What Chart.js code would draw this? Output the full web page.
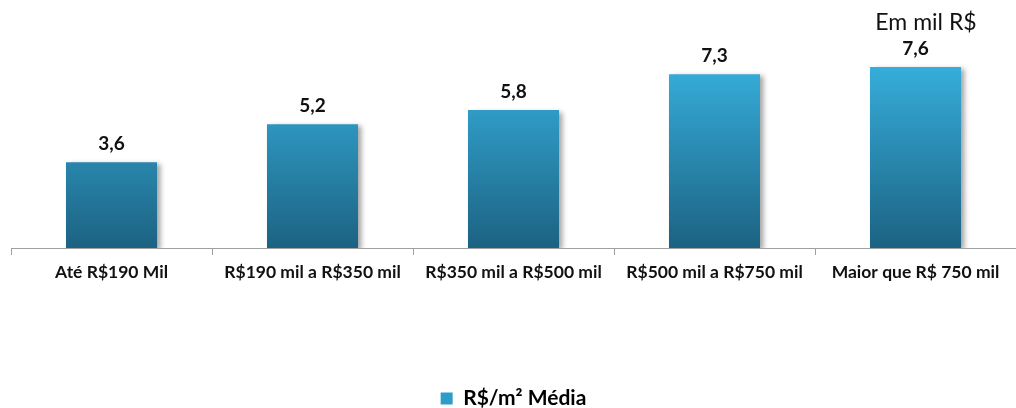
<!DOCTYPE html>
<html><head><meta charset="utf-8">
<script src="https://cdn.jsdelivr.net/npm/chart.js@4/dist/chart.umd.min.js"></script>
<style>html,body{margin:0;padding:0;background:#fff}#wrap{width:1016px;height:408px}</style>
</head><body><div id="wrap"><canvas id="c"></canvas></div>
<script>
const categories = ["Até R$190 Mil","R$190 mil a R$350 mil","R$350 mil a R$500 mil","R$500 mil a R$750 mil","Maior que R$ 750 mil"];
const values = [3.6, 5.2, 5.8, 7.3, 7.6];
const valueLabels = ["3,6","5,2","5,8","7,3","7,6"];
const seriesName = "R$/m² Média";
const unitNote = "Em mil R$";
const FONT = "Lato, 'Open Sans', sans-serif";

const ctx = document.getElementById('c').getContext('2d');
function grad(chart){
  const a = chart.chartArea; if(!a) return '#2a8fb8';
  const y0 = chart.scales.y.getPixelForValue(0);
  const g = chart.ctx.createLinearGradient(0, a.top+55, 0, y0);
  g.addColorStop(0,'#36AEDB'); g.addColorStop(1,'#1C6282');
  return g;
}
const shadowPlugin = {
  id:'shadow',
  beforeDatasetDraw(chart){ const c=chart.ctx; c.save(); c.shadowColor='rgba(0,0,0,0.35)'; c.shadowBlur=5; c.shadowOffsetX=4; c.shadowOffsetY=2; },
  afterDatasetDraw(chart){ chart.ctx.restore(); }
};
const labelPlugin = {
  id:'labels',
  afterDatasetsDraw(chart){
    const c=chart.ctx; const meta=chart.getDatasetMeta(0);
    c.save(); c.font="bold 19px "+FONT; c.fillStyle='#111'; c.textAlign='center'; c.textBaseline='bottom';
    meta.data.forEach((b,i)=>{ c.fillText(valueLabels[i], b.x, b.y-9); });
    c.font="23px "+FONT; c.textAlign='center'; c.textBaseline='middle';
    c.fillText(unitNote, 926, 23);
    c.restore();
  }
};
new Chart(ctx,{
  type:'bar',
  data:{labels:categories,datasets:[{label:seriesName,data:values,backgroundColor:(c)=>grad(c.chart),borderWidth:0,barPercentage:0.453,categoryPercentage:1}]},
  options:{
    responsive:true,maintainAspectRatio:false,animation:false,
    layout:{padding:{top:10,left:11,right:0,bottom:-11}},
    scales:{
      y:{display:false,min:0,max:10},
      x:{
        grid:{display:true,drawOnChartArea:false,offset:true,color:'#A0A0A0',tickLength:7,tickColor:'#A0A0A0'},
        border:{display:true,color:'#A0A0A0',width:1},
        ticks:{color:'#111',font:{family:FONT,size:17.5,weight:'bold'},padding:7,maxRotation:0,autoSkip:false},
        afterFit(s){ s.height=139; }
      }
    },
    plugins:{
      legend:{position:'bottom',labels:{color:'#111',font:{family:FONT,size:21,weight:'bold'},boxWidth:12,boxHeight:12,padding:1,
        generateLabels(){return [{text:seriesName,fillStyle:'#2E9CC8',strokeStyle:'#2E9CC8',lineWidth:0,datasetIndex:0}];}}},
      tooltip:{enabled:false}
    }
  },
  plugins:[shadowPlugin,labelPlugin]
});
</script></body></html>
